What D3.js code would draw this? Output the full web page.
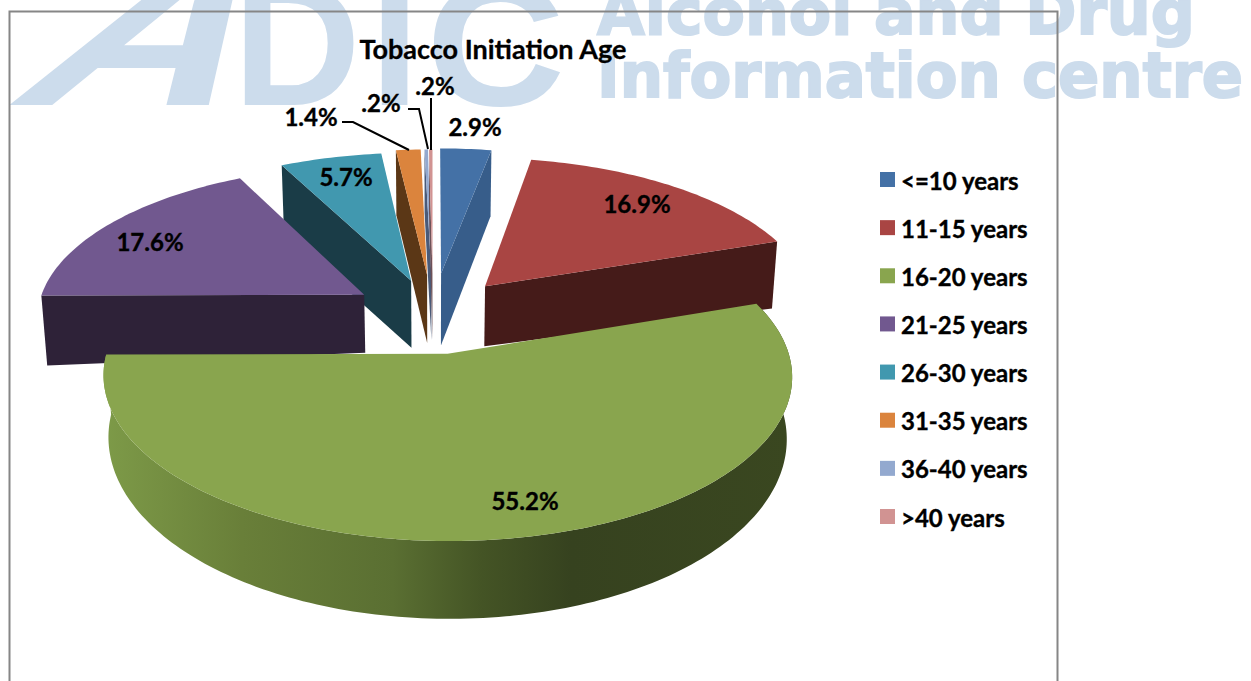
<!DOCTYPE html>
<html><head><meta charset="utf-8">
<script src="https://cdn.jsdelivr.net/npm/d3@7/dist/d3.min.js"></script>
<style>html,body{margin:0;padding:0;background:#fff;overflow:hidden}svg{display:block}
text{font-family:Lato,"Open Sans",sans-serif;font-weight:700;fill:#000}</style>
</head><body><svg id="c" width="1251" height="681"></svg>
<script>
const categories=["<=10 years","11-15 years","16-20 years","21-25 years","26-30 years","31-35 years","36-40 years",">40 years"];
const values=[2.9,16.9,55.2,17.6,5.7,1.4,0.2,0.2];
const valueLabels=["2.9%","16.9%","55.2%","17.6%","5.7%","1.4%",".2%",".2%"];
const topColors=["#4471a6","#a94543","#89a54e","#71588f","#4198af","#db843d","#93a9cf","#d19392"];
const wallColors=["#375d8a","#451b19","#89a54e","#2e2238","#1a3c47","#5b3716","#4a5a78","#6e5258"];
const title="Tobacco Initiation Age";

// layout (not data)
const labelPos=[[475,126],[637,203],[525,500],[150,241],[346,176],[311,116],[381,102],[435,85]];
const explode=[.27,.24,.25,.241,.23,.26,.26,.26];
const radiusScale=[.97,.975,.97,.965,.98,.97,.97,.97];
const apexDepth=[72,60,60,58,67,68,66,66];
const rimDepth=[66,67,60,70,68,65,64,64];
const drawOrder=[4,5,6,7,3,0,1,2];
const cx=433,cy=314,W=340,H=156,P=.135;

const svg=d3.select("#c");
// watermark
const wm=svg.append("g").attr("class","wm");
const wmc="#ccdcec";
wm.append("text").text("A").attr("transform","translate(2,105) skewX(-36.5) scale(1.486,1.05)")
  .style("font-family","Liberation Sans").style("font-size","200px").style("fill",wmc);
wm.append("text").text("D").attr("x",233).attr("y",105)
  .style("font-family","Liberation Sans").style("font-size","177px").style("fill",wmc);
wm.append("text").text("I").attr("x",370).attr("y",105)
  .style("font-family","Liberation Sans").style("font-size","177px").style("fill",wmc);
wm.append("text").text("C").attr("transform","translate(426,105) scale(1.09,1)")
  .style("font-family","Liberation Sans").style("font-size","177px").style("fill",wmc);
wm.append("text").text("Alcohol and Drug").attr("x",597).attr("y",34).attr("textLength",598).attr("lengthAdjust","spacingAndGlyphs")
  .style("font-family","DejaVu Sans").style("font-size","63px").style("fill",wmc).style("stroke",wmc).style("stroke-width",2);
wm.append("text").text("Information centre").attr("x",597).attr("y",97).attr("textLength",646).attr("lengthAdjust","spacingAndGlyphs")
  .style("font-family","DejaVu Sans").style("font-size","63px").style("fill",wmc).style("stroke",wmc).style("stroke-width",2);

// frame
svg.append("path").attr("d",d3.line()([[9.5,690],[9.5,11.5],[1057.5,11.5],[1057.5,690]]))
  .attr("fill","none").attr("stroke","#868686").attr("stroke-width",2);

const arcs=d3.pie().sort(null).value(d=>d)(values);
const project=(X,Z)=>{const s=1/(1+P*Z);return [cx+W*X*s,cy-H*Z*s];};
const offset=(i)=>{const m=(arcs[i].startAngle+arcs[i].endAngle)/2;return [explode[i]*Math.sin(m),explode[i]*Math.cos(m)];};
const apex=i=>{const o=offset(i);return project(o[0],o[1]);};
const rim=(i,a)=>{const o=offset(i),r=radiusScale[i];return project(o[0]+r*Math.sin(a),o[1]+r*Math.cos(a));};
const down=(p,d)=>[cx+(p[0]-cx)*.985,p[1]+d];
const rimPts=i=>{const a=arcs[i],n=Math.max(2,Math.ceil((a.endAngle-a.startAngle)/.02));
  return d3.range(n+1).map(k=>rim(i,a.startAngle+(a.endAngle-a.startAngle)*k/n));};
const line=d3.line();
const deg=Math.PI/180;

// gradient for round wall of the large slice
const defs=svg.append("defs");
const grad=defs.append("linearGradient").attr("id","gw").attr("gradientUnits","userSpaceOnUse")
  .attr("x1",105).attr("x2",790).attr("y1",0).attr("y2",0);
[[0,"#7d9a48"],[.2,"#697f39"],[.42,"#5a6f32"],[.55,"#445425"],[.68,"#36421f"],[1,"#3a4720"]]
  .forEach(s=>grad.append("stop").attr("offset",s[0]).attr("stop-color",s[1]));

const g=svg.append("g");
drawOrder.forEach(i=>{
  const a=arcs[i],pts=rimPts(i),ap=apex(i);
  if(i===2){
    const band=pts.concat(pts.slice().reverse().map(p=>down(p,rimDepth[i]+(p[1]-354)*.095)));
    g.append("path").attr("d",line(band)+"Z").attr("fill","url(#gw)");
  } else {
    const face=a.startAngle<90*deg?a.endAngle:a.startAngle;
    const r=rim(i,face);
    g.append("path").attr("d",line([ap,r,down(r,rimDepth[i]),down(ap,apexDepth[i])])+"Z").attr("fill",wallColors[i]);
  }
  g.append("path").attr("d",line([ap,...pts])+"Z").attr("fill",topColors[i]);
});

// leaders
const leaders=svg.append("g").attr("fill","none").attr("stroke","#000").attr("stroke-width",2);
leaders.append("path").attr("d",line([[342,122],[353,122],[409,150]]));
leaders.append("path").attr("d",line([[408,109],[419,109],[428,149]]));
leaders.append("path").attr("d",line([[431,98],[431,150]]));

// data labels
svg.append("g").selectAll("text").data(valueLabels).join("text")
  .text(d=>d).attr("x",(d,i)=>labelPos[i][0]).attr("y",(d,i)=>labelPos[i][1])
  .attr("text-anchor","middle").attr("dominant-baseline","central").style("font-size","24px").style("stroke","#000").style("stroke-width",.35);

svg.append("text").text(title).attr("x",493).attr("y",59).attr("text-anchor","middle").style("font-size","27px").style("stroke","#000").style("stroke-width",.3);

// legend
const ly=d3.scalePoint().domain(categories).range([180,517]);
const lg=svg.append("g").selectAll("g").data(categories).join("g").attr("transform",d=>`translate(880,${ly(d)})`);
lg.append("rect").attr("x",0).attr("y",-8).attr("width",15).attr("height",15).attr("fill",(d,i)=>topColors[i]);
lg.append("text").text(d=>d).attr("x",21).attr("y",0).attr("dominant-baseline","central").style("font-size","24px").style("stroke","#000").style("stroke-width",.35);
</script></body></html>
